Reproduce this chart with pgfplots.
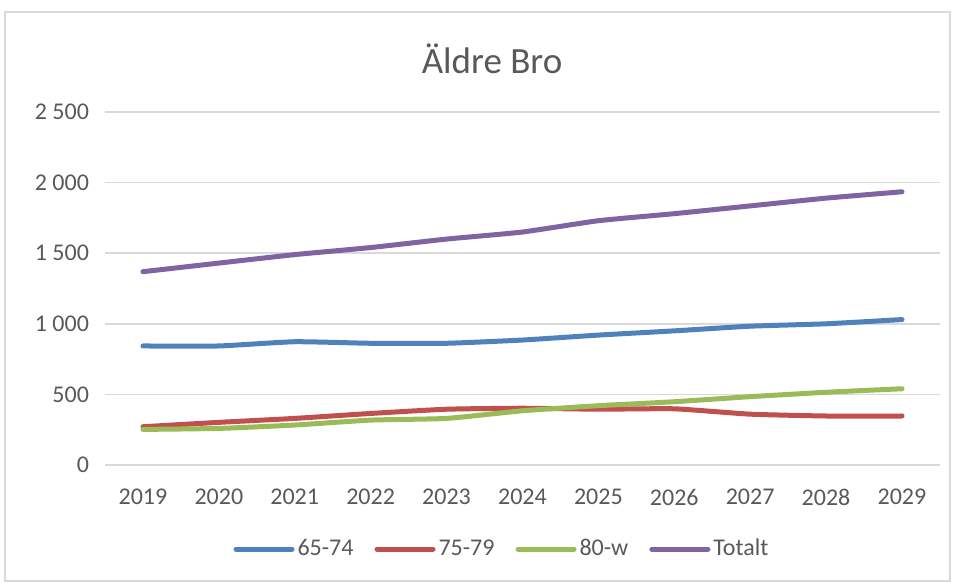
\documentclass[border=0pt]{standalone}
\usepackage{pgfplots}
\pgfplotsset{compat=1.18}
\usepackage{fontspec}
\setmainfont{Carlito}
\definecolor{xblue}{HTML}{4F81BD}
\definecolor{xred}{HTML}{C0504D}
\definecolor{xgreen}{HTML}{9BBB59}
\definecolor{xpurple}{HTML}{8064A2}
\definecolor{txt}{HTML}{595959}
\definecolor{grd}{HTML}{D9D9D9}
\begin{document}
\begin{tikzpicture}
\begin{axis}[name=ax,scale only axis,width=417.5pt,height=176.5pt,
xmin=2018.5,xmax=2029.5,ymin=0,ymax=2500,
xtick={2019,...,2029},ytick={0,500,1000,1500,2000,2500},
yticklabels={0,500,1 000,1 500,2 000,2 500},
xticklabel style={/pgf/number format/1000 sep={}},
/pgf/number format/assume math mode=true,
ticklabel style={font=\fontsize{12}{14}\selectfont,text=txt},
xticklabel style={yshift=-8.5pt},yticklabel style={xshift=-4.5pt},
axis line style={draw=none},major tick length=0pt,
ymajorgrids,grid style={grd,line width=0.8pt},
legend columns=4,
legend style={at={(0.476,-0.238)},anchor=center,draw=none,fill=none,
font=\fontsize{12}{14}\selectfont,text=txt,
nodes={inner xsep=1.5pt},
/tikz/every even column/.append style={column sep=9pt}},
legend image code/.code={\draw[#1,line width=2.5pt,line cap=round] (0pt,0pt) -- (28pt,0pt);},
every axis plot/.append style={line width=2.5pt,line cap=round,smooth,tension=0.3,no marks}]
\addplot[xblue] coordinates {(2019,843) (2020,843) (2021,873) (2022,862) (2023,862) (2024,885) (2025,920) (2026,950) (2027,983) (2028,1000) (2029,1030)};
\addplot[xred] coordinates {(2019,271) (2020,302) (2021,330) (2022,365) (2023,395) (2024,402) (2025,395) (2026,398) (2027,360) (2028,347) (2029,347)};
\addplot[xgreen] coordinates {(2019,252) (2020,259) (2021,283) (2022,318) (2023,330) (2024,384) (2025,420) (2026,448) (2027,484) (2028,515) (2029,540)};
\addplot[xpurple] coordinates {(2019,1369) (2020,1430) (2021,1490) (2022,1540) (2023,1600) (2024,1650) (2025,1730) (2026,1780) (2027,1835) (2028,1890) (2029,1935)};
\legend{65-74,75-79,80-w,Totalt}
\end{axis}
\draw[grd,line width=0.8pt] ([shift={(-50pt,-58pt)}]ax.south west) rectangle ([shift={(422.5pt,226.5pt)}]ax.south west);
\node[text=txt,font=\fontsize{18.5}{21}\selectfont] at ([shift={(193.5pt,203pt)}]ax.south west) {Äldre Bro};
\useasboundingbox ([shift={(-52.5pt,-59pt)}]ax.south west) rectangle ([shift={(425pt,232.5pt)}]ax.south west);
\end{tikzpicture}
\end{document}
